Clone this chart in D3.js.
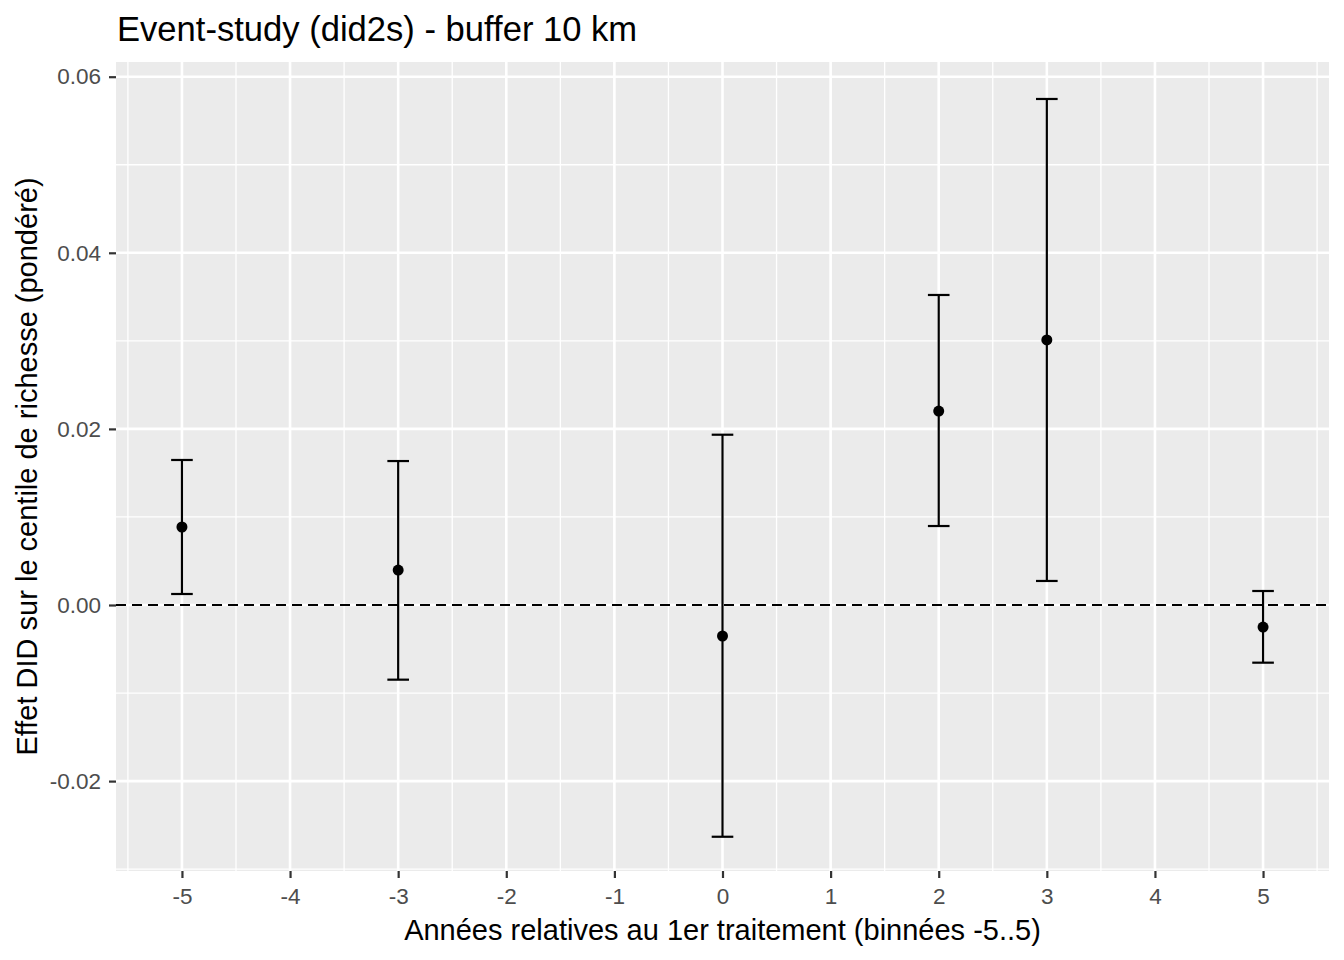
<!DOCTYPE html>
<html><head><meta charset="utf-8">
<script src="https://cdn.jsdelivr.net/npm/d3@7"></script>
<style>body{margin:0;background:#fff;} text{font-family:"Liberation Sans",Arial,sans-serif;}</style>
</head><body>
<svg id="c" width="1344" height="960"></svg>
<script>
const periods = [-5, -3, 0, 2, 3, 5];
const estimates = [0.00886, 0.00397, -0.00352, 0.02203, 0.0301, -0.0025];
const ciLow = [0.00125, -0.00848, -0.02632, 0.00897, 0.00273, -0.00655];
const ciHigh = [0.01647, 0.01635, 0.01934, 0.03521, 0.05747, 0.00159];
const xTicks = [-5, -4, -3, -2, -1, 0, 1, 2, 3, 4, 5];
const yTicks = [-0.02, 0, 0.02, 0.04, 0.06];
const xMinor = [-5.5, -4.5, -3.5, -2.5, -1.5, -0.5, 0.5, 1.5, 2.5, 3.5, 4.5, 5.5];
const yMinor = [-0.03, -0.01, 0.01, 0.03, 0.05];
const title = "Event-study (did2s) - buffer 10 km";
const xTitle = "Années relatives au 1er traitement (binnées -5..5)";
const yTitle = "Effet DID sur le centile de richesse (pondéré)";

const svg = d3.select("#c");
const P = {l:116, t:62, r:1329, b:871};
const x = d3.scaleLinear().domain([-5.61, 5.61]).range([P.l, P.r]);
const y = d3.scaleLinear().domain([-0.03021, 0.06167]).range([P.b, P.t]);

svg.append("rect").attr("x",P.l).attr("y",P.t).attr("width",P.r-P.l).attr("height",P.b-P.t).attr("fill","#EBEBEB");
const g = svg.append("g");
g.selectAll(".xm").data(xMinor.filter(v=>x(v)>=P.l&&x(v)<=P.r)).join("line")
  .attr("x1",d=>x(d)).attr("x2",d=>x(d)).attr("y1",P.t).attr("y2",P.b).attr("stroke","#fff").attr("stroke-width",1.3);
g.selectAll(".ym").data(yMinor.filter(v=>y(v)>=P.t&&y(v)<=P.b)).join("line")
  .attr("y1",d=>y(d)).attr("y2",d=>y(d)).attr("x1",P.l).attr("x2",P.r).attr("stroke","#fff").attr("stroke-width",1.3);
g.selectAll(".xM").data(xTicks).join("line")
  .attr("x1",d=>x(d)).attr("x2",d=>x(d)).attr("y1",P.t).attr("y2",P.b).attr("stroke","#fff").attr("stroke-width",2.6);
g.selectAll(".yM").data(yTicks).join("line")
  .attr("y1",d=>y(d)).attr("y2",d=>y(d)).attr("x1",P.l).attr("x2",P.r).attr("stroke","#fff").attr("stroke-width",2.6);

// zero line
svg.append("line").attr("x1",P.l).attr("x2",P.r).attr("y1",y(0)).attr("y2",y(0))
  .attr("stroke","#000").attr("stroke-width",2).attr("stroke-dasharray","10,6");

// error bars
const data = periods.map((p,i)=>({p, e:estimates[i], lo:ciLow[i], hi:ciHigh[i]}));
const cap = x(0.1)-x(0);
const eb = svg.append("g").attr("stroke","#000").attr("stroke-width",2.2);
eb.selectAll(".v").data(data).join("line").attr("x1",d=>x(d.p)).attr("x2",d=>x(d.p)).attr("y1",d=>y(d.lo)).attr("y2",d=>y(d.hi));
eb.selectAll(".h").data(data).join("line").attr("x1",d=>x(d.p)-cap).attr("x2",d=>x(d.p)+cap).attr("y1",d=>y(d.hi)).attr("y2",d=>y(d.hi));
eb.selectAll(".l").data(data).join("line").attr("x1",d=>x(d.p)-cap).attr("x2",d=>x(d.p)+cap).attr("y1",d=>y(d.lo)).attr("y2",d=>y(d.lo));
svg.append("g").selectAll("circle").data(data).join("circle").attr("cx",d=>x(d.p)).attr("cy",d=>y(d.e)).attr("r",5.5).attr("fill","#000");

// axes
const fmtHyph = f => d => f(d).replace("\u2212","-");
const xa = svg.append("g").attr("transform",`translate(0,${P.b})`)
  .call(d3.axisBottom(x).tickValues(xTicks).tickFormat(fmtHyph(d3.format("d"))).tickSize(7).tickPadding(10));
const ya = svg.append("g").attr("transform",`translate(${P.l},0)`)
  .call(d3.axisLeft(y).tickValues(yTicks).tickFormat(fmtHyph(d3.format(".2f"))).tickSize(7).tickPadding(8));
[xa,ya].forEach(a=>{
  a.select(".domain").remove();
  a.selectAll(".tick line").attr("stroke","#333").attr("stroke-width",2.2);
  a.selectAll(".tick text").attr("fill","#4D4D4D").attr("font-size",22.5).attr("font-family","Liberation Sans, Arial, sans-serif");
});

svg.append("text").attr("x",117).attr("y",41).attr("font-size",34.6).attr("fill","#000").text(title);
svg.append("text").attr("x",(P.l+P.r)/2).attr("y",940).attr("text-anchor","middle").attr("font-size",29).attr("fill","#000").text(xTitle);
svg.append("text").attr("transform",`translate(37,${(P.t+P.b)/2}) rotate(-90)`).attr("text-anchor","middle").attr("font-size",29).attr("fill","#000").text(yTitle);
</script>
</body></html>
